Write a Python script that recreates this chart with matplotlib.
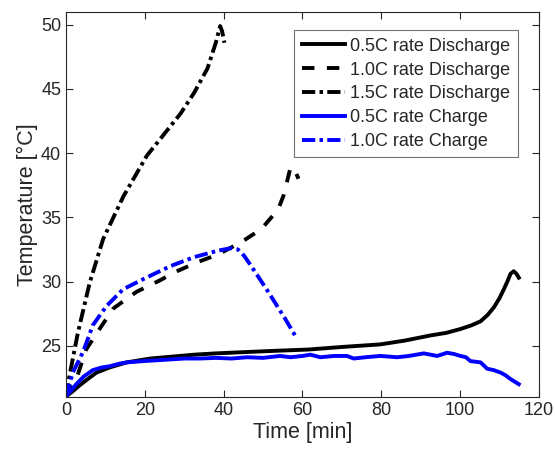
import matplotlib
matplotlib.use("Agg")
import matplotlib.pyplot as plt

###############################
###          DATA           ###
###############################
# 0.5C discharge
t_d05 = [0, 1.5, 3.4, 5.5, 7.7, 11, 15.4, 21.4, 27, 32.5, 38, 45.3, 53, 61.5, 70, 79.7, 86,
         92.5, 96.5, 100.1, 103, 105.2, 107, 108.6, 110, 111.1, 112, 112.8, 113.6, 114.3, 114.9]
T_d05 = [21.05, 21.4, 21.9, 22.4, 22.9, 23.3, 23.7, 24.0, 24.15, 24.3, 24.4, 24.5, 24.6, 24.7,
         24.9, 25.1, 25.4, 25.8, 26.0, 26.3, 26.6, 26.9, 27.4, 28.0, 28.7, 29.4, 30.0, 30.6,
         30.8, 30.6, 30.3]

# 1.0C discharge
t_d10 = [0, 1.2, 2.6, 5.1, 8.5, 12.0, 17.9, 23.9, 27.4, 33.3, 38.5, 44.4, 49.6, 53.8, 55.2,
         56.9, 57.7, 59.0]
T_d10 = [21.05, 21.6, 22.4, 24.7, 26.3, 27.9, 29.2, 30.1, 30.7, 31.5, 32.1, 33.05, 34.1, 35.6,
         36.7, 38.8, 38.9, 38.0]

# 1.5C discharge
t_d15 = [0, 0.9, 3.0, 6.0, 9.4, 14.5, 20.5, 23.9, 29.1, 32.5, 35.9, 38.0, 39.1, 39.6, 40.2]
T_d15 = [21.05, 22.7, 26.0, 29.9, 33.3, 36.6, 39.8, 41.1, 43.1, 44.7, 46.6, 48.6, 49.9, 49.5, 48.6]

# 0.5C charge
t_c05 = [0, 1.2, 2.6, 4.5, 6.8, 9.0, 11.1, 13.5, 15.4, 19.7, 25, 30, 34, 38, 42, 46, 50,
         54.3, 57, 60, 62, 64.5, 68, 71.3, 73, 76, 79.7, 82, 84, 87, 90.8, 92.5, 94.2, 96.7,
         98.5, 100.1, 101.5, 102.6, 105.2, 106.9, 108.5, 110.3, 111.5, 112.8, 114.9]
T_c05 = [21.05, 21.5, 22.0, 22.6, 23.1, 23.3, 23.4, 23.6, 23.7, 23.8, 23.9, 24.0, 24.0, 24.05,
         24.0, 24.1, 24.05, 24.2, 24.1, 24.2, 24.3, 24.1, 24.2, 24.2, 24.0, 24.1, 24.2, 24.15,
         24.1, 24.2, 24.4, 24.3, 24.2, 24.45, 24.35, 24.2, 24.1, 23.8, 23.7, 23.2, 23.1, 22.9,
         22.7, 22.4, 22.0]

# 1.0C charge
t_c10 = [0, 1.7, 4.3, 6.8, 10.3, 14.5, 19.7, 26.5, 32.5, 38.5, 41.9, 43.6, 45.2, 47.0, 51.3,
         55.6, 58.5]
T_c10 = [21.05, 22.9, 24.5, 26.6, 28.1, 29.4, 30.2, 31.2, 31.9, 32.4, 32.6, 32.5, 32.0, 31.2,
         29.2, 27.1, 25.6]

labels = ['0.5C rate Discharge', '1.0C rate Discharge', '1.5C rate Discharge',
          '0.5C rate Charge', '1.0C rate Charge']

###############################
###         STYLE           ###
###############################
plt.rcParams['font.family'] = ['Liberation Sans', 'DejaVu Sans']
txt = '#262626'
lw = 2.8
dashed = (0, (3.2, 3.2))
dashdot = (0, (3.4, 1.1, 0.9, 1.1))

###############################
###         FIGURE          ###
###############################
fig = plt.figure(figsize=(5.55, 4.59), dpi=100)
ax = fig.add_axes([0.119, 0.135, 0.852, 0.839])

ax.plot(t_d05, T_d05, color='black', lw=lw, ls='-', label=labels[0])
ax.plot(t_d10, T_d10, color='black', lw=lw, ls=dashed, label=labels[1])
ax.plot(t_d15, T_d15, color='black', lw=lw, ls=dashdot, label=labels[2])
ax.plot(t_c05, T_c05, color='#0000ff', lw=lw, ls='-', label=labels[3])
ax.plot(t_c10, T_c10, color='#0000ff', lw=lw, ls=dashdot, label=labels[4])

ax.set_xlim(0, 120)
ax.set_ylim(21, 51)
ax.set_xticks([0, 20, 40, 60, 80, 100, 120])
ax.set_yticks([25, 30, 35, 40, 45, 50])
ax.tick_params(direction='in', top=True, right=True, labelsize=13, colors=txt,
               length=5, width=0.8)
for s in ax.spines.values():
    s.set_color(txt)
    s.set_linewidth(0.8)

ax.set_xlabel('Time [min]', fontsize=15.5, color=txt, labelpad=2)
ax.set_ylabel('Temperature [°C]', fontsize=15.5, color=txt, labelpad=2)

leg = ax.legend(loc='upper right', bbox_to_anchor=(0.955, 0.952), fontsize=13,
                fancybox=False, frameon=True, handlelength=2.4, handletextpad=0.3,
                labelspacing=0.38, borderpad=0.4, borderaxespad=0)
leg.get_frame().set_edgecolor('#4d4d4d')
leg.get_frame().set_linewidth(0.8)
for t in leg.get_texts():
    t.set_color(txt)

fig.savefig('out.png', dpi=100)
